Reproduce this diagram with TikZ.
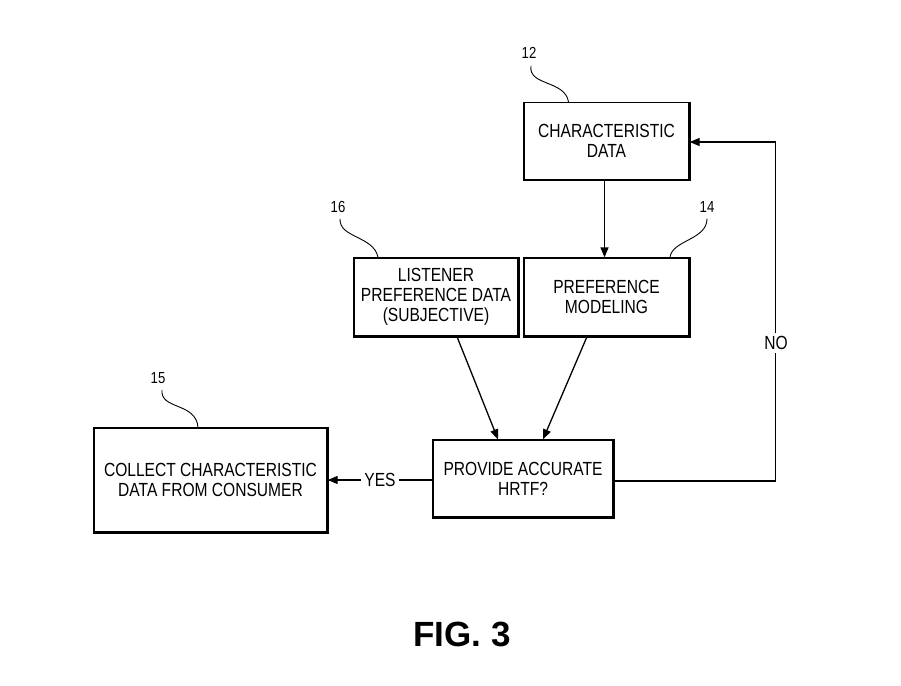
\documentclass[tikz,border=0pt]{standalone}
\usepackage{fontspec}
\setmainfont{Liberation Sans}
\newfontfamily\lab[FakeStretch=0.82]{Liberation Sans}
\usetikzlibrary{arrows.meta}
\begin{document}
\begin{tikzpicture}[x=1pt,y=-1pt,
  boxy/.style={draw, line width=1.3pt, inner sep=0pt, align=center,
    font=\lab\fontsize{19}{20}\selectfont},
  refnum/.style={font=\lab\fontsize{16}{18}\selectfont, inner sep=1pt},
  conn/.style={line width=1.3pt},
  arr/.style={conn, -{Triangle[length=10pt,width=8pt]}},
  squig/.style={line width=0.9pt},
  tag/.style={font=\lab\fontsize{19}{20}\selectfont, fill=white, inner sep=3pt}]
\useasboundingbox (0,0) rectangle (901,685);
% boxes
\node[boxy, minimum width=165pt, minimum height=77pt] (chard) at (606.5,141) {CHARACTERISTIC\\DATA};
\node[boxy, minimum width=164pt, minimum height=78pt] (listen) at (436,297) {LISTENER\\PREFERENCE DATA\\(SUBJECTIVE)};
\node[boxy, minimum width=165pt, minimum height=78pt] (pref) at (606.5,297) {PREFERENCE\\MODELING};
\node[boxy, minimum width=180pt, minimum height=77pt] (hrtf) at (523,478.5) {PROVIDE ACCURATE\\HRTF?};
\node[boxy, minimum width=233pt, minimum height=104pt] (collect) at (210.5,480) {COLLECT CHARACTERISTIC\\DATA FROM CONSUMER};
\foreach \n in {chard,listen,pref,hrtf,collect}
  \draw[line width=2.2pt] (\n.north east) -- (\n.south east) -- (\n.south west);
% reference numerals
\node[refnum] (n12) at (529,53) {12};
\node[refnum] (n16) at (338,207) {16};
\node[refnum] (n14) at (707,207) {14};
\node[refnum] (n15) at (158,378) {15};
\draw[squig] (n12.south) ++(2,6) .. controls (528,86) and (565,80) .. ([xshift=-38pt]chard.north);
\draw[squig] (n16.south) ++(2,5) .. controls (339,238) and (374,236) .. ([xshift=-58pt]listen.north);
\draw[squig] (n14.south) ++(0,5) .. controls (707,240) and (672,240) .. ([xshift=63.5pt]pref.north);
\draw[squig] (n15.south) ++(4,5) .. controls (160,410) and (196,402) .. ([xshift=-12.5pt]collect.north);
% connectors
\draw[arr] ([xshift=-2pt]chard.south) -- ([xshift=-2pt]pref.north);
\draw[arr] ([xshift=21pt]listen.south) -- ([xshift=-25pt]hrtf.north);
\draw[arr] ([xshift=-19.5pt]pref.south) -- ([xshift=20pt]hrtf.north);
\draw[arr] ([yshift=-1.5pt]hrtf.west) -- node[tag, pos=0.5] (yes) {YES} ([yshift=-1.5pt]hrtf.west -| collect.east);
\draw[arr] ([yshift=-2.5pt]hrtf.east) -- ++(162,0) coordinate (corner) |- ([yshift=-1pt]chard.east);
\node[tag] (no) at (776,343) {NO};
% figure label
\node[font=\bfseries\fontsize{35}{40}\selectfont, inner sep=0pt] (fig) at (462,634) {FIG. 3};
\end{tikzpicture}
\end{document}
